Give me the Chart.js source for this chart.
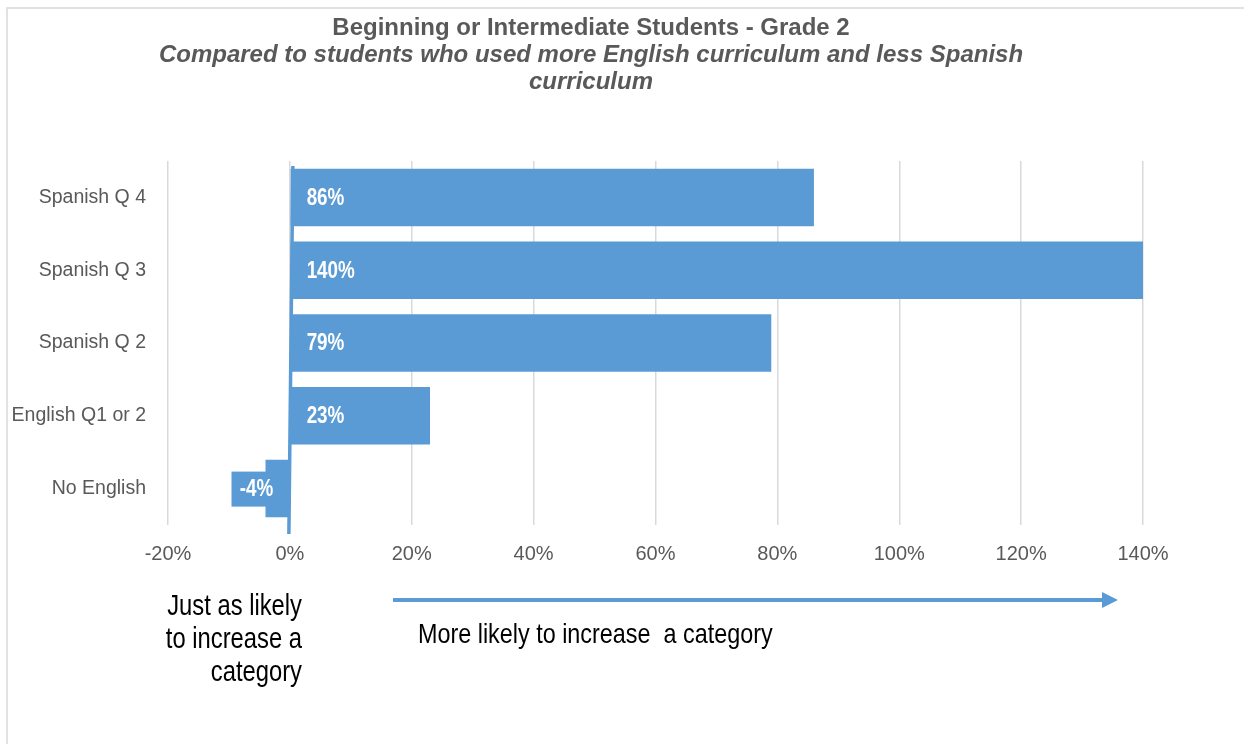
<!DOCTYPE html>
<html>
<head>
<meta charset="utf-8">
<title>Beginning or Intermediate Students - Grade 2</title>
<script src="https://cdn.jsdelivr.net/npm/chart.js@4.4.1/dist/chart.umd.min.js"></script>
<style>
  html, body { margin: 0; padding: 0; background: #fff; }
  #wrap { position: relative; width: 1244px; height: 744px; }
</style>
</head>
<body>
<div id="wrap"><canvas id="myChart"></canvas></div>
<script>
// data
const categories = ['Spanish Q 4', 'Spanish Q 3', 'Spanish Q 2', 'English Q1 or 2', 'No English'];
const values = [86, 140, 79, 23, -4];
const xTicks = [-20, 0, 20, 40, 60, 80, 100, 120, 140];

const titleText = 'Beginning or Intermediate Students - Grade 2';
const subtitleLines = ['Compared to students who used more English curriculum and less Spanish', 'curriculum'];
const leftNote = ['Just as likely', 'to increase a', 'category'];
const rightNote = 'More likely to increase  a category';

const BLUE = '#5B9BD5';
const GREY_TEXT = '#595959';
const FONT = "'Liberation Sans', Arial, sans-serif";

// the source uses a narrow face; squeeze the text we draw ourselves
function narrowText(ctx, text, x, y, align) {
    ctx.save();
    ctx.translate(x, y);
    ctx.scale(0.82, 1);
    ctx.textAlign = align;
    ctx.fillText(text, 0, 0);
    ctx.restore();
}

// frame, titles, notes and arrow
const decorations = {
    id: 'decorations',
    beforeDraw(chart) {
        const ctx = chart.ctx;
        ctx.save();
        ctx.fillStyle = '#fff';
        ctx.fillRect(0, 0, chart.width, chart.height);
        ctx.strokeStyle = '#d9d9d9';
        ctx.lineWidth = 1.5;
        ctx.beginPath();
        ctx.moveTo(7, chart.height);
        ctx.lineTo(7, 8);
        ctx.lineTo(chart.width, 8);
        ctx.stroke();
        ctx.restore();
    },
    afterDraw(chart) {
        const ctx = chart.ctx;
        ctx.save();
        ctx.fillStyle = GREY_TEXT;
        ctx.textAlign = 'center';
        ctx.textBaseline = 'alphabetic';
        ctx.font = 'bold 24px ' + FONT;
        ctx.fillText(titleText, 591, 35);
        ctx.font = 'italic bold 24px ' + FONT;
        subtitleLines.forEach((t, i) => ctx.fillText(t, 591, 62 + i * 27));

        ctx.fillStyle = '#000';
        ctx.font = '29px ' + FONT;
        leftNote.forEach((t, i) => narrowText(ctx, t, 302, 615 + i * 33, 'right'));
        ctx.font = '28.5px ' + FONT;
        narrowText(ctx, rightNote, 418, 643, 'left');

        // arrow
        ctx.strokeStyle = BLUE;
        ctx.fillStyle = BLUE;
        ctx.lineWidth = 4;
        ctx.beginPath();
        ctx.moveTo(393, 600);
        ctx.lineTo(1104, 600);
        ctx.stroke();
        ctx.beginPath();
        ctx.moveTo(1118, 600);
        ctx.lineTo(1102, 592);
        ctx.lineTo(1102, 608);
        ctx.closePath();
        ctx.fill();
        ctx.restore();
    }
};

// value labels inside the bars + the blue zero line
const barLabels = {
    id: 'barLabels',
    afterDatasetsDraw(chart) {
        const ctx = chart.ctx;
        const xScale = chart.scales.x;
        const area = chart.chartArea;
        const zero = xScale.getPixelForValue(0);
        ctx.save();

        ctx.strokeStyle = BLUE;
        ctx.lineWidth = 3.5;
        ctx.beginPath();
        ctx.moveTo(zero + 3, area.top + 5);
        ctx.lineTo(zero - 1, area.bottom + 9);
        ctx.stroke();

        ctx.font = 'bold 23px ' + FONT;
        ctx.textBaseline = 'middle';
        const meta = chart.getDatasetMeta(0);
        meta.data.forEach((bar, i) => {
            const v = values[i];
            const label = v + '%';
            if (v >= 0) {
                ctx.fillStyle = '#fff';
                narrowText(ctx, label, bar.base + 16, bar.y + 1, 'left');
            } else {
                const cx = bar.x - 9;
                ctx.fillStyle = BLUE;
                ctx.fillRect(cx - 25, bar.y - 17, 50, 35);
                ctx.fillStyle = '#fff';
                narrowText(ctx, label, cx, bar.y + 1, 'center');
            }
        });
        ctx.restore();
    }
};

const ctx = document.getElementById('myChart').getContext('2d');
const myChart = new Chart(ctx, {
    type: 'bar',
    data: {
        labels: categories,
        datasets: [{
            data: values,
            backgroundColor: BLUE,
            borderWidth: 0,
            categoryPercentage: 1,
            barPercentage: 0.79
        }]
    },
    options: {
        indexAxis: 'y',
        responsive: true,
        maintainAspectRatio: false,
        animation: false,
        devicePixelRatio: 1,
        layout: { padding: { left: 0, top: 161, right: 101, bottom: 161 } },
        plugins: {
            legend: { display: false },
            tooltip: { enabled: false }
        },
        scales: {
            x: {
                type: 'linear',
                min: xTicks[0],
                max: xTicks[xTicks.length - 1],
                afterBuildTicks: scale => { scale.ticks = xTicks.map(v => ({ value: v })); },
                ticks: {
                    callback: v => v + '%',
                    color: GREY_TEXT,
                    font: { family: FONT, size: 20 },
                    padding: 17,
                    maxRotation: 0
                },
                grid: { color: '#d9d9d9', lineWidth: 1.5, drawTicks: false },
                border: { display: false }
            },
            y: {
                ticks: {
                    color: GREY_TEXT,
                    font: { family: FONT, size: 19.5 },
                    padding: 22
                },
                grid: { display: false, drawTicks: false },
                border: { display: false },
                afterFit: scale => { scale.width = 168; }
            }
        }
    },
    plugins: [decorations, barLabels]
});
</script>
</body>
</html>
